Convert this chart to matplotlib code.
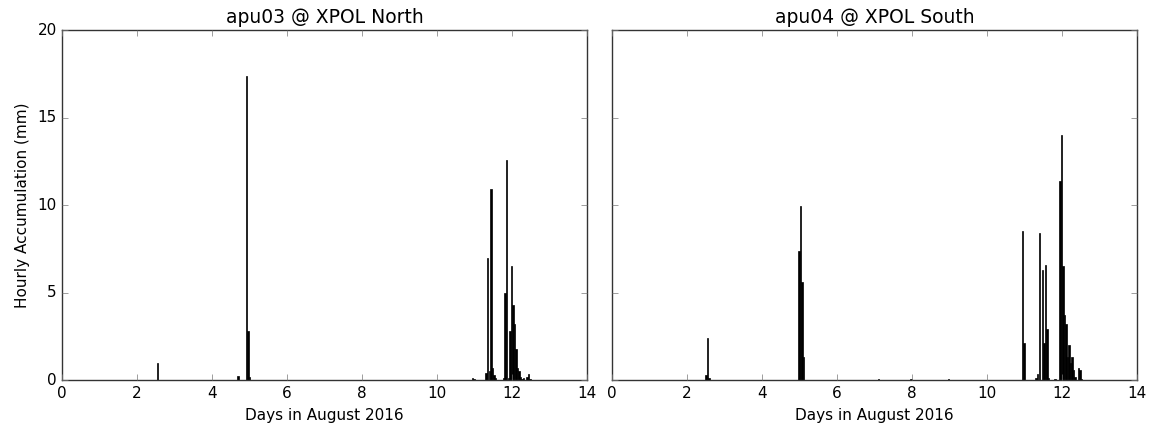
import matplotlib
matplotlib.use("Agg")
import matplotlib.pyplot as plt
import numpy as np

# hourly accumulation (mm), bar left edge in days of August 2016
north_days = [2.52, 4.67, 4.90, 4.94, 4.98, 10.92, 10.96,
              11.29, 11.33, 11.38, 11.42, 11.46, 11.50, 11.54,
              11.75, 11.79, 11.83, 11.88, 11.92, 11.96, 12.00, 12.04,
              12.08, 12.13, 12.17, 12.21, 12.25, 12.29, 12.38, 12.42, 12.46]
north_vals = [1.0, 0.25, 17.4, 2.8, 0.2, 0.15, 0.05,
              0.4, 7.0, 0.5, 10.9, 0.7, 0.3, 0.1,
              0.1, 5.0, 12.6, 0.1, 2.8, 6.5, 4.3, 3.2,
              1.8, 0.7, 0.5, 0.2, 0.05, 0.1, 0.2, 0.35, 0.05]

south_days = [2.48, 2.52, 2.56, 4.96, 5.00, 5.04, 5.08, 7.08, 7.95, 8.95,
              10.92, 10.96, 11.29, 11.33, 11.38, 11.46, 11.50, 11.54, 11.58,
              11.62, 11.79, 11.92, 11.96, 12.00, 12.04, 12.08, 12.13, 12.17,
              12.21, 12.25, 12.29, 12.33, 12.42, 12.46, 12.50]
south_vals = [0.3, 2.4, 0.1, 7.4, 9.95, 5.6, 1.3, 0.05, 0.05, 0.05,
              8.5, 2.1, 0.1, 0.35, 8.4, 6.3, 2.1, 6.6, 2.9,
              0.1, 0.05, 11.4, 14.0, 6.5, 3.7, 3.2, 1.3, 2.0,
              1.0, 1.3, 0.6, 0.2, 0.7, 0.6, 0.05]

titles = ["apu03 @ XPOL North", "apu04 @ XPOL South"]
xlabel = "Days in August 2016"
ylabel = "Hourly Accumulation (mm)"

plt.style.use("classic")
plt.rcParams["font.family"] = "DejaVu Sans"

fig, axes = plt.subplots(1, 2, figsize=(11.52, 4.32), dpi=100, sharey=True)
fig.patch.set_facecolor("white")
fig.subplots_adjust(left=0.054, right=0.987, top=0.93, bottom=0.12, wspace=0.048)

for ax, days, vals, title in zip(axes, [north_days, south_days],
                                 [north_vals, south_vals], titles):
    ax.bar(days, vals, width=1 / 24, align="edge", color="black",
           edgecolor="black", linewidth=0.5)
    ax.set_xlim(0, 14)
    ax.set_ylim(0, 20)
    ax.set_xticks(np.arange(0, 15, 2))
    ax.set_yticks(np.arange(0, 21, 5))
    ax.set_title(title, fontsize=13.5)
    ax.set_xlabel(xlabel, fontsize=11)
    ax.tick_params(labelsize=11, direction="in", top=True, right=True,
                   color="#777777")
    for s in ax.spines.values():
        s.set_color("#333333")

axes[0].set_ylabel(ylabel, fontsize=11)
axes[1].tick_params(labelleft=False)

fig.savefig("out.png", dpi=100, facecolor="white")
